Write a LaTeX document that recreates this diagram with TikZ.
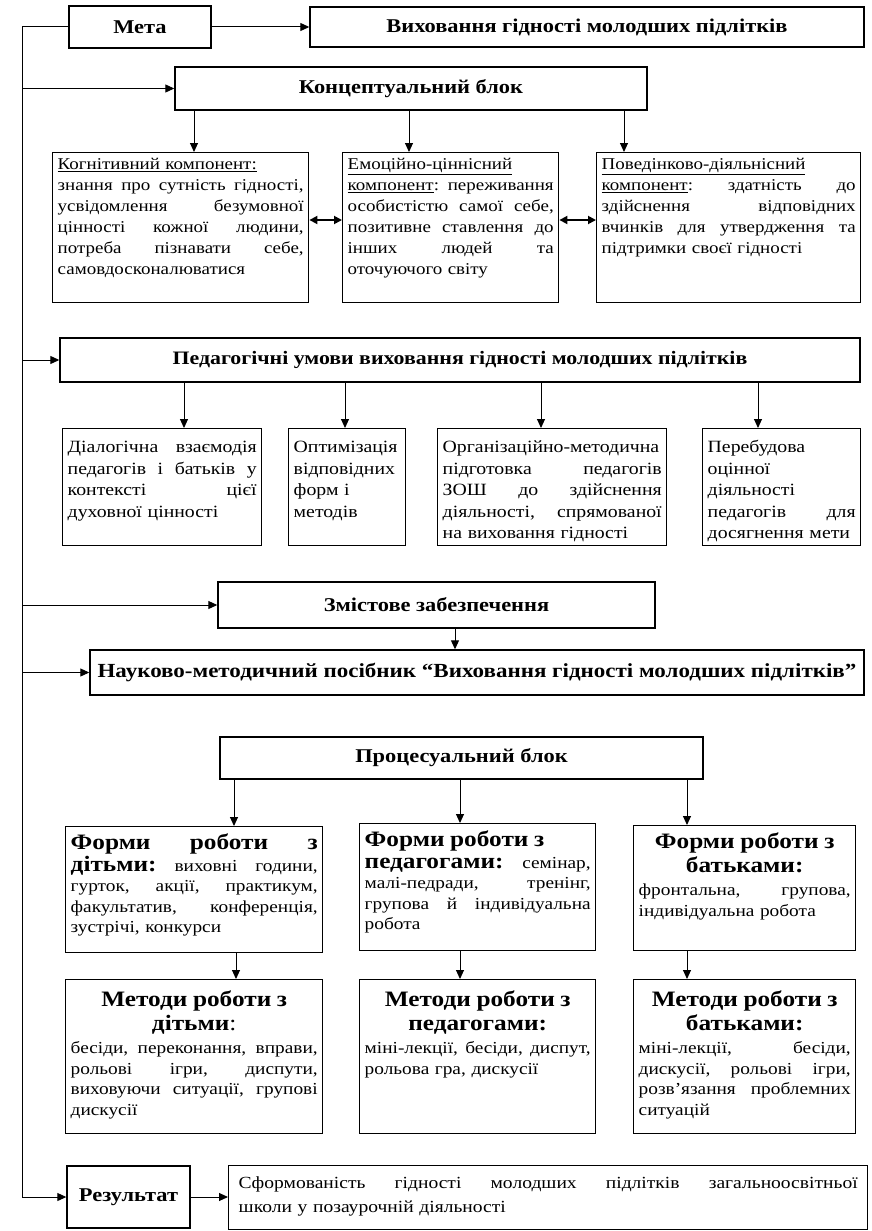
\documentclass[tikz,border=0pt]{standalone}
\usepackage{fontspec}
\setmainfont{Liberation Serif}[FakeStretch=1.15]
\usetikzlibrary{arrows.meta}
\newlength{\jw}
\newcommand{\jl}[1]{\leavevmode\hbox to \jw{\frenchspacing\spaceskip=\fontdimen2\font plus 1fil\relax #1}}
\newcommand{\cl}[1]{\leavevmode\hbox to \jw{\hfil #1\hfil}}
\newcommand{\bodyA}{\fontsize{16.5}{21}\selectfont}
\newcommand{\bodyC}{\fontsize{17.2}{21.5}\selectfont}
\newcommand{\bodyB}{\fontsize{16.8}{20.5}\selectfont}
\newcommand{\hdr}{\fontsize{22}{23}\selectfont\bfseries}
\newcommand{\ttlA}{\fontsize{19.5}{22}\selectfont\bfseries}
\newcommand{\ttlB}{\fontsize{19}{22}\selectfont\bfseries}
\newcommand{\ttlC}{\fontsize{20}{22}\selectfont\bfseries}
\newcommand{\sformfont}{\fontsize{17}{24}\selectfont}
\begin{document}
\begin{tikzpicture}[x=1pt,y=-1pt,
  tw/.style={text width=#1, execute at begin node={\setlength{\jw}{#1}}},
  bx/.style={draw, line width=1.4pt, anchor=north west, inner xsep=5pt, inner ysep=3pt, align=left, text height=14pt, font=\bodyA},
  bxc/.style={bx, font=\bodyC, text height=21pt},
  bxb/.style={bx, font=\bodyB, text height=20pt},
  ttl/.style={draw, line width=1.4pt, inner sep=0pt, font=\ttlA},
  arr/.style={line width=1pt, -{Triangle[length=9pt,width=8pt]}},
  darr/.style={line width=1.8pt, {Triangle[length=8pt,width=8pt]}-{Triangle[length=8pt,width=8pt]}},
  ln/.style={line width=1pt}]
\fill[white] (0,0) rectangle (872,1231);
\useasboundingbox (0,0) rectangle (872,1231);

% top
\node[ttl, minimum width=142pt, minimum height=42pt] (meta) at (140,27) {Мета};
\node[ttl, minimum width=554pt, minimum height=40pt] (goal) at (587,27) {Виховання гідності молодших підлітків};
\node[ttl, minimum width=472pt, minimum height=43pt] (concept) at (411,88.5) {Концептуальний блок};

% concept components
\node[bx, tw=246pt, text depth=130pt] (k1) at (52,152) {%
\underline{Когнітивний компонент:}\\
\jl{знання про сутність гідності,}\\
\jl{усвідомлення безумовної}\\
\jl{цінності кожної людини,}\\
\jl{потреба пізнавати себе,}\\
самовдосконалюватися};
\node[bx, tw=206pt, text depth=130pt] (k2) at (342,152) {%
\underline{Емоційно-ціннісний}\\
\jl{\underline{компонент}: переживання}\\
\jl{особистістю самої себе,}\\
\jl{позитивне ставлення до}\\
\jl{інших людей та}\\
оточуючого світу};
\node[bx, tw=254pt, text depth=130pt] (k3) at (596,152) {%
\underline{Поведінково-діяльнісний}\\
\jl{\underline{компонент}: здатність до}\\
\jl{здійснення відповідних}\\
\jl{вчинків для утвердження та}\\
підтримки своєї гідності};

% pedagogical conditions
\node[ttl, minimum width=800pt, minimum height=44pt, font=\ttlB] (ped) at (460,360) {Педагогічні умови виховання гідності молодших підлітків};
\node[bxc, tw=189pt, text depth=90pt] (c1) at (62,428) {%
\jl{Діалогічна взаємодія}\\
\jl{педагогів і батьків у}\\
\jl{контексті цієї}\\
духовної цінності};
\node[bxc, tw=107pt, text depth=90pt] (c2) at (288,428) {%
Оптимізація\\
відповідних\\
форм і\\
методів};
\node[bxc, tw=219pt, text depth=90pt] (c3) at (437,428) {%
Організаційно-методична\\
\jl{підготовка педагогів}\\
\jl{ЗОШ до здійснення}\\
\jl{діяльності, спрямованої}\\
на виховання гідності};
\node[bxc, tw=148pt, text depth=90pt] (c4) at (702,428) {%
Перебудова\\
оцінної\\
діяльності\\
\jl{педагогів для}\\
досягнення мети};

% content
\node[ttl, minimum width=437pt, minimum height=46pt] (zmist) at (436.5,605) {Змістове забезпечення};
\node[ttl, minimum width=774pt, minimum height=45pt, font=\ttlC] (nauk) at (477,672.5) {Науково-методичний посібник “Виховання гідності молодших підлітків”};

% process
\node[ttl, minimum width=483pt, minimum height=42pt] (proc) at (461.5,758) {Процесуальний блок};
\node[bxb, tw=247pt, text depth=100pt] (f1) at (65,826) {%
\jl{\hdr Форми роботи з}\\[1pt]
\jl{{\hdr дітьми:} виховні години,}\\
\jl{гурток, акції, практикум,}\\
\jl{факультатив, конференція,}\\
зустрічі, конкурси};
\node[bxb, tw=226pt, text depth=101pt] (f2) at (359,823) {%
{\hdr Форми роботи з}\\[1pt]
\jl{{\hdr педагогами:} семінар,}\\
\jl{малі-педради, тренінг,}\\
\jl{групова й індивідуальна}\\
робота};
\node[bxb, tw=212pt, text depth=99pt] (f3) at (633,825) {%
\cl{\hdr Форми роботи з}\\[3pt]
\cl{\hdr батьками:}\\[3pt]
\jl{фронтальна, групова,}\\
індивідуальна робота};
\node[bxb, tw=247pt, text height=24pt, text depth=124pt] (m1) at (65,979) {%
\cl{\hdr Методи роботи з}\\[3pt]
\cl{{\hdr дітьми}{\fontsize{22}{23}\selectfont:}}\\[3pt]
\jl{бесіди, переконання, вправи,}\\
\jl{рольові ігри, диспути,}\\
\jl{виховуючи ситуації, групові}\\
дискусії};
\node[bxb, tw=226pt, text height=24pt, text depth=124pt] (m2) at (359,979) {%
\cl{\hdr Методи роботи з}\\[3pt]
\cl{\hdr педагогами:}\\[3pt]
\jl{міні-лекції, бесіди, диспут,}\\
рольова гра, дискусії};
\node[bxb, tw=212pt, text height=24pt, text depth=124pt] (m3) at (633,979) {%
\cl{\hdr Методи роботи з}\\[3pt]
\cl{\hdr батьками:}\\[3pt]
\jl{міні-лекції, бесіди,}\\
\jl{дискусії, рольові ігри,}\\
\jl{розв’язання проблемних}\\
ситуацій};

% result
\node[ttl, minimum width=123pt, minimum height=62pt] (res) at (128.5,1197) {Результат};
\node[bx, inner xsep=10pt, tw=619pt, text height=20pt, text depth=38pt, font=\sformfont] (sform) at (228,1165) {%
\jl{Сформованість гідності молодших підлітків загальноосвітньої}\\
школи у позаурочній діяльності};

% connectors
\coordinate (t0) at (22,27);
\coordinate (t1) at (22,1197);
\draw[ln] (meta.west) -- (t0) -- (t1);
\draw[arr] (meta) -- (goal);
\draw[arr] (t0 |- concept.west) -- (concept.west);
\draw[arr] (t0 |- ped.west) -- (ped.west);
\draw[arr] (t0 |- zmist.west) -- (zmist.west);
\draw[arr] (t0 |- nauk.west) -- (nauk.west);
\draw[arr] (t1) -- (res.west);
\draw[arr] (res.east) -- (res.east -| sform.west);

\draw[arr] (concept.south -| 194,0) -- (k1.north -| 194,0);
\draw[arr] (concept.south -| 409,0) -- (k2.north -| 409,0);
\draw[arr] (concept.south -| 624,0) -- (k3.north -| 624,0);
\draw[darr] (k1.east |- 0,220) -- (k2.west |- 0,220);
\draw[darr] (k2.east |- 0,220) -- (k3.west |- 0,220);

\draw[arr] (ped.south -| 184,0) -- (c1.north -| 184,0);
\draw[arr] (ped.south -| 345,0) -- (c2.north -| 345,0);
\draw[arr] (ped.south -| 541,0) -- (c3.north -| 541,0);
\draw[arr] (ped.south -| 758,0) -- (c4.north -| 758,0);

\draw[arr] (zmist.south -| 455,0) -- (nauk.north -| 455,0);

\draw[arr] (proc.south -| 234,0) -- (f1.north -| 234,0);
\draw[arr] (proc.south -| 460,0) -- (f2.north -| 460,0);
\draw[arr] (proc.south -| 687,0) -- (f3.north -| 687,0);

\draw[arr] (f1.south -| 236,0) -- (m1.north -| 236,0);
\draw[arr] (f2.south -| 460,0) -- (m2.north -| 460,0);
\draw[arr] (f3.south -| 687,0) -- (m3.north -| 687,0);
\end{tikzpicture}
\end{document}
